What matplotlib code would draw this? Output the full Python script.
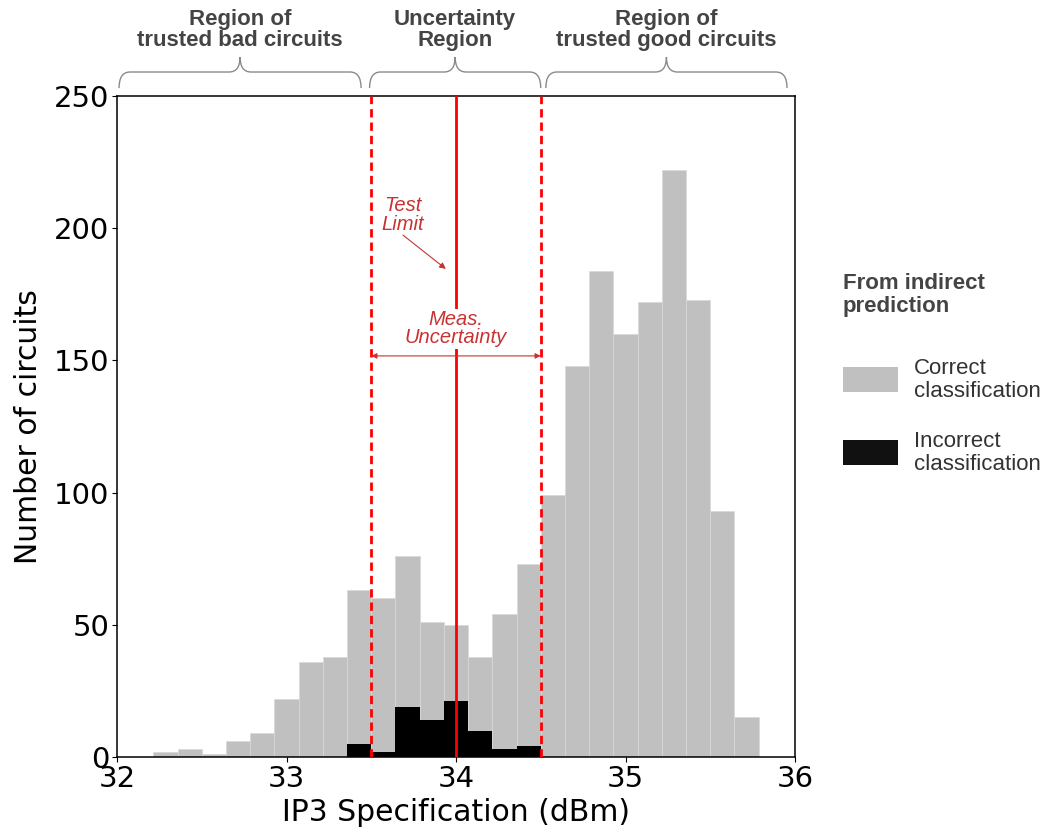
import numpy as np
import matplotlib
matplotlib.use("Agg")
import matplotlib.pyplot as plt
from matplotlib.path import Path
from matplotlib.patches import PathPatch, Rectangle
import matplotlib.transforms as mtransforms

# histogram data (bin width 1/7 dBm, first edge 32.214)
bin_width = 1.0 / 7.0
first_edge = 33.5 - 9 * bin_width
correct_counts = [2, 3, 1, 6, 9, 22, 36, 38, 63, 60, 76, 51, 50, 38, 54, 73,
                  99, 148, 184, 160, 172, 222, 173, 93, 15]
incorrect_counts = [0, 0, 0, 0, 0, 0, 0, 0, 5, 2, 19, 14, 21, 10, 3, 4,
                    0, 0, 0, 0, 0, 0, 0, 0, 0]

test_limit = 34.0
meas_unc = 0.5

region_labels = ["Region of\ntrusted bad circuits", "Uncertainty\nRegion",
                 "Region of\ntrusted good circuits"]
region_spans = [(32.012, 33.44), (33.49, 34.50), (34.53, 35.953)]

legend_title = "From indirect\nprediction"
legend_labels = ["Correct\nclassification", "Incorrect\nclassification"]

red = "#ff0000"
note_red = "#c83232"
gray = "#c0c0c0"

edges = first_edge + bin_width * np.arange(len(correct_counts))

fig = plt.figure(figsize=(10.46, 8.33), dpi=100)
ax = fig.add_axes([117 / 1046, 1 - 757 / 833, (795 - 117) / 1046, (757 - 96) / 833])

ax.bar(edges, correct_counts, width=bin_width, align="edge", color=gray,
       edgecolor="#d9d9d9", linewidth=0.5)
ax.bar(edges, incorrect_counts, width=bin_width, align="edge", color="black",
       linewidth=0)

ax.axvline(test_limit, color=red, lw=2, zorder=3)
ax.axvline(test_limit - meas_unc, color=red, lw=2, ls=(0, (3, 1.8)), zorder=3)
ax.axvline(test_limit + meas_unc, color=red, lw=2, ls=(0, (3, 1.8)), zorder=3)

ax.set_xlim(32, 36)
ax.set_ylim(0, 250)
ax.set_xticks([32, 33, 34, 35, 36])
ax.set_yticks([0, 50, 100, 150, 200, 250])
ax.tick_params(labelsize=21, pad=2)
ax.set_xlabel("IP3 Specification (dBm)", fontsize=21.5, labelpad=4)
ax.set_ylabel("Number of circuits", fontsize=21.5, labelpad=8)
for s in ax.spines.values():
    s.set_linewidth(1.1)

# annotations
ax.annotate("", xy=(33.94, 184.6), xytext=(33.687, 197.4),
            arrowprops=dict(arrowstyle="-|>", color=note_red, lw=0.8,
                            mutation_scale=9, shrinkA=0, shrinkB=0))
ax.text(33.687, 205, "Test\nLimit", color=note_red, style="italic",
        fontsize=14.5, ha="center", va="center", family="Liberation Sans",
        linespacing=0.95)
ax.annotate("", xy=(test_limit - meas_unc, 151.7), xytext=(test_limit + meas_unc, 151.7),
            arrowprops=dict(arrowstyle="<|-|>", color=note_red, lw=0.8,
                            mutation_scale=8, shrinkA=0, shrinkB=0), zorder=4)
ax.text(test_limit, 162, "Meas.\nUncertainty", color=note_red, style="italic",
        fontsize=14.5, ha="center", va="center", family="Liberation Sans",
        linespacing=0.95, zorder=5,
        bbox=dict(facecolor="white", edgecolor="none", pad=1.0))

# braces above the axes
trans = mtransforms.blended_transform_factory(ax.transData, ax.transAxes)
y0, yh, ytip = 1.012, 1.0363, 1.059
r = 0.065
for (xa, xb), lab in zip(region_spans, region_labels):
    xm = (xa + xb) / 2
    verts = [(xa, y0), (xa, yh), (xa + r, yh),
             (xm - r, yh),
             (xm, yh), (xm, ytip),
             (xm, yh), (xm + r, yh),
             (xb - r, yh),
             (xb, yh), (xb, y0)]
    codes = [Path.MOVETO, Path.CURVE3, Path.CURVE3,
             Path.LINETO,
             Path.CURVE3, Path.CURVE3,
             Path.CURVE3, Path.CURVE3,
             Path.LINETO,
             Path.CURVE3, Path.CURVE3]
    ax.add_patch(PathPatch(Path(verts, codes), transform=trans, fill=False,
                           edgecolor="#8a8a8a", lw=1.0, clip_on=False))
    ax.text(xm, 1.100, lab, transform=trans, ha="center", va="center",
            fontsize=16, fontweight="bold", color="#444444",
            family="Liberation Sans", linespacing=1.05)

# legend drawn by hand
fig.text(843 / 1046, 1 - 295 / 833, legend_title, fontsize=16, fontweight="bold",
         color="#444444", family="Liberation Sans", va="center", ha="left",
         linespacing=1.1)
legend_colors = [gray, "#111111"]
legend_y = [379, 452]
for col, lab, yc in zip(legend_colors, legend_labels, legend_y):
    fig.add_artist(Rectangle((843 / 1046, 1 - (yc + 12.5) / 833), 55 / 1046, 25 / 833,
                             transform=fig.transFigure, facecolor=col, edgecolor="none"))
    fig.text(914 / 1046, 1 - (yc + 1) / 833, lab, fontsize=16, color="#333333",
             family="Liberation Sans", va="center", ha="left", linespacing=1.17)

fig.savefig("out.png", dpi=100)
